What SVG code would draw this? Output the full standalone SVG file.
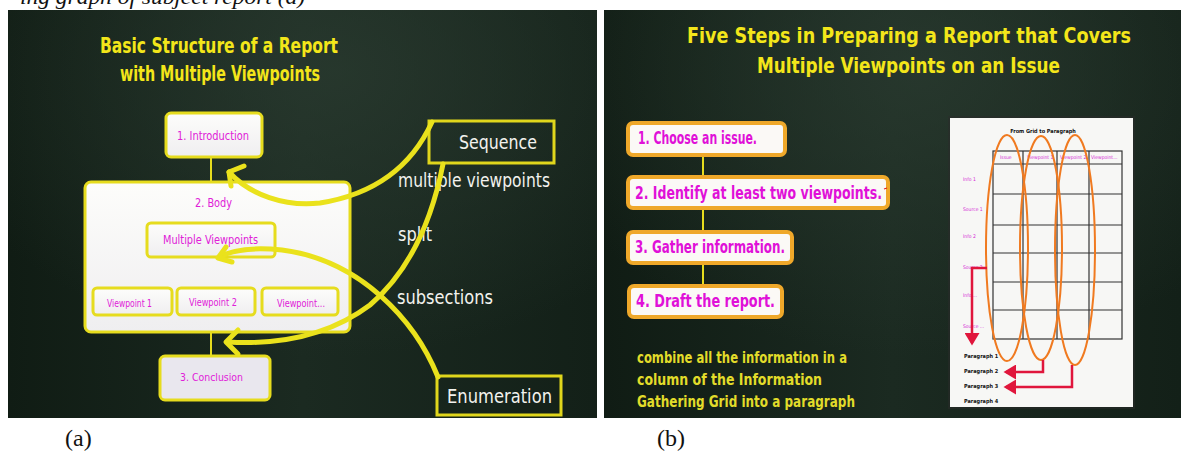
<svg xmlns="http://www.w3.org/2000/svg" width="1181" height="453" viewBox="0 0 1181 453">
  <defs>
    <linearGradient id="board" x1="0" y1="0" x2="1" y2="0">
      <stop offset="0" stop-color="#101c14"/>
      <stop offset="0.5" stop-color="#1b2a21"/>
      <stop offset="1" stop-color="#132018"/>
    </linearGradient>
    <radialGradient id="glow" cx="0.55" cy="0.15" r="0.7">
      <stop offset="0" stop-color="#2c3d32" stop-opacity="0.7"/>
      <stop offset="1" stop-color="#2c3d32" stop-opacity="0"/>
    </radialGradient>
    <linearGradient id="paper" x1="0" y1="0" x2="0" y2="1">
      <stop offset="0" stop-color="#fdfdfb"/>
      <stop offset="1" stop-color="#efeef0"/>
    </linearGradient>
    <marker id="redhead" markerWidth="6" markerHeight="6" refX="4" refY="3" orient="auto" markerUnits="strokeWidth">
      <path d="M0,0 L5,3 L0,6 z" fill="#e0163c"/>
    </marker>
  </defs>
  <style>
    .chalk { font-family: "Liberation Sans Narrow", "DejaVu Sans Condensed", sans-serif; font-weight: bold; }
    .title { fill: #f3e61a; font-size: 21px; }
    .white { fill: #f2f2ee; font-size: 19px; font-weight: normal; }
    .mag { fill: #e020d8; font-weight: normal; }
    .box { fill: url(#paper); stroke: #e6dc1e; stroke-width: 3; }
    .frame { fill: none; stroke: #e0d61c; stroke-width: 3; }
    .thin { stroke: #e6dc1e; stroke-width: 2; fill: none; }
    .curve { stroke: #eae21c; stroke-width: 5; fill: none; stroke-linecap: round; stroke-linejoin: round; }
    .step { fill: #fbf9f6; stroke: #efa82a; stroke-width: 4; }
    .steptext { fill: #e010d8; font-size: 17px; }
    .note { fill: #e2dc2a; font-size: 15px; }
    .tiny { font-family: "Liberation Sans Narrow", "DejaVu Sans Condensed", sans-serif; font-size: 5px; fill: #d62ad6; }
    .tinyb { font-family: "Liberation Sans Narrow", "DejaVu Sans Condensed", sans-serif; font-size: 5.5px; fill: #111; font-weight: bold; }
    .grid { stroke: #333; stroke-width: 1.2; fill: none; }
    .loop { stroke: #f07a20; stroke-width: 2; fill: none; }
    .red { stroke: #e0163c; stroke-width: 2.5; fill: none; }
    .cap { font-family: "Liberation Serif", serif; font-size: 24px; fill: #111; }
  </style>

  <rect width="1181" height="453" fill="#ffffff"/>

  <!-- caption line running above the panels, trimmed by the top edge -->
  <text x="20" y="4" font-family="Liberation Serif, serif" font-style="italic" font-size="20" fill="#111" textLength="285" lengthAdjust="spacingAndGlyphs">ing graph of subject report (a)</text>

  <!-- left board -->
  <g id="panel-a">
    <rect x="8" y="10" width="589" height="408" fill="url(#board)"/>
    <rect x="8" y="10" width="589" height="408" fill="url(#glow)"/>
    <text class="chalk title" x="100" y="53" textLength="238" lengthAdjust="spacingAndGlyphs">Basic Structure of a Report</text>
    <text class="chalk title" x="120" y="81" textLength="200" lengthAdjust="spacingAndGlyphs">with Multiple Viewpoints</text>
  </g>

  <!-- right board -->
  <g id="panel-b">
    <rect x="604" y="10" width="577" height="408" fill="url(#board)"/>
    <rect x="604" y="10" width="577" height="408" fill="url(#glow)"/>
    <text class="chalk title" x="687" y="43" font-size="24" textLength="444" lengthAdjust="spacingAndGlyphs">Five Steps in Preparing a Report that Covers</text>
    <text class="chalk title" x="757" y="73" font-size="24" textLength="303" lengthAdjust="spacingAndGlyphs">Multiple Viewpoints on an Issue</text>
  </g>

  <!-- tree connectors inside the structure -->
  <g id="connectors">
    <line class="thin" x1="211" y1="157" x2="211" y2="183"/>
    <line class="thin" x1="211" y1="332" x2="211" y2="357"/>
    <line class="thin" x1="211" y1="257" x2="134" y2="289"/>
    <line class="thin" x1="211" y1="257" x2="211" y2="289"/>
    <line class="thin" x1="211" y1="257" x2="300" y2="289"/>
    <line class="thin" x1="703" y1="155" x2="703" y2="177"/>
    <line class="thin" x1="703" y1="208" x2="703" y2="232"/>
    <line class="thin" x1="703" y1="263" x2="703" y2="286"/>
  </g>

  <g id="intro">
    <rect class="box" x="166" y="113" width="96" height="44" rx="5"/>
    <text class="chalk mag" x="177" y="140" font-size="13" textLength="72" lengthAdjust="spacingAndGlyphs">1. Introduction</text>
  </g>

  <g id="body">
    <rect class="box" x="85" y="182" width="265" height="150" rx="6" stroke-width="4"/>
    <text class="chalk mag" x="195" y="207" font-size="13" textLength="37" lengthAdjust="spacingAndGlyphs">2. Body</text>
  </g>

  <g id="multiple-viewpoints">
    <rect class="box" x="147" y="223" width="128" height="34" rx="4" stroke-width="2.5"/>
    <text class="chalk mag" x="163" y="244" font-size="12" textLength="95" lengthAdjust="spacingAndGlyphs">Multiple Viewpoints</text>
  </g>

  <g id="viewpoint-1">
    <rect class="box" x="93" y="288" width="79" height="27" rx="4" stroke-width="2.5"/>
    <text class="chalk mag" x="107" y="307" font-size="10" textLength="45" lengthAdjust="spacingAndGlyphs">Viewpoint 1</text>
  </g>
  <g id="viewpoint-2">
    <rect class="box" x="177" y="288" width="78" height="27" rx="4" stroke-width="2.5"/>
    <text class="chalk mag" x="189" y="306" font-size="10" textLength="48" lengthAdjust="spacingAndGlyphs">Viewpoint 2</text>
  </g>
  <g id="viewpoint-n">
    <rect class="box" x="262" y="288" width="76" height="27" rx="4" stroke-width="2.5"/>
    <text class="chalk mag" x="277" y="307" font-size="10" textLength="48" lengthAdjust="spacingAndGlyphs">Viewpoint...</text>
  </g>

  <g id="conclusion">
    <rect x="160" y="356" width="110" height="44" rx="5" fill="#e9e7ee" stroke="#e6dc1e" stroke-width="3"/>
    <text class="chalk mag" x="180" y="381" font-size="11" textLength="63" lengthAdjust="spacingAndGlyphs">3. Conclusion</text>
  </g>

  <g id="sequence">
    <rect class="frame" x="429" y="121" width="125" height="42"/>
    <text class="chalk white" x="459" y="149" font-size="20" textLength="78" lengthAdjust="spacingAndGlyphs">Sequence</text>
  </g>

  <g id="enumeration">
    <rect class="frame" x="437" y="376" width="124" height="39"/>
    <text class="chalk white" x="447" y="403" font-size="19" textLength="105" lengthAdjust="spacingAndGlyphs">Enumeration</text>
  </g>

  <g id="chalk-notes">
    <text class="chalk white" x="398" y="187" textLength="152" lengthAdjust="spacingAndGlyphs">multiple viewpoints</text>
    <text class="chalk white" x="398" y="241" textLength="34" lengthAdjust="spacingAndGlyphs">split</text>
    <text class="chalk white" x="397" y="304" textLength="96" lengthAdjust="spacingAndGlyphs">subsections</text>
  </g>

  <!-- sweeping chalk arrows -->
  <g id="chalk-arrows">
    <path class="curve" d="M432 122 C410 170 370 195 320 203 C285 207 250 195 229 172"/>
    <polyline class="curve" points="244,166 229,172 231,186"/>
    <path class="curve" d="M443 164 C430 230 405 275 370 305 C330 335 280 345 228 342"/>
    <polyline class="curve" points="238,330 226,342 238,354"/>
    <path class="curve" d="M438 377 C415 320 360 260 282 250 C252 247 232 250 219 257"/>
    <polyline class="curve" points="226,247 218,258 232,262"/>
  </g>

  <g id="step-1">
    <rect class="step" x="628" y="123" width="157" height="32" rx="5"/>
    <text class="chalk steptext" x="638" y="144" textLength="119" lengthAdjust="spacingAndGlyphs">1. Choose an issue.</text>
  </g>
  <g id="step-2">
    <rect class="step" x="628" y="177" width="260" height="31" rx="5"/>
    <text class="chalk steptext" x="635" y="199" textLength="247" lengthAdjust="spacingAndGlyphs">2. Identify at least two viewpoints.</text>
    <line x1="884" y1="189" x2="887" y2="188" stroke="#e02020" stroke-width="1.2"/>
  </g>
  <g id="step-3">
    <rect class="step" x="628" y="232" width="164" height="31" rx="5"/>
    <text class="chalk steptext" x="635" y="253" textLength="150" lengthAdjust="spacingAndGlyphs">3. Gather information.</text>
  </g>
  <g id="step-4">
    <rect class="step" x="629" y="286" width="153" height="31" rx="5"/>
    <text class="chalk steptext" x="636" y="307" textLength="139" lengthAdjust="spacingAndGlyphs">4. Draft the report.</text>
  </g>

  <g id="combine-note">
    <text class="chalk note" x="637" y="363" textLength="210" lengthAdjust="spacingAndGlyphs">combine all the information in a</text>
    <text class="chalk note" x="637" y="385" textLength="185" lengthAdjust="spacingAndGlyphs">column of the Information</text>
    <text class="chalk note" x="637" y="407" textLength="218" lengthAdjust="spacingAndGlyphs">Gathering Grid into a paragraph</text>
  </g>

  <!-- grid-to-paragraph sheet -->
  <g id="grid-sheet">
    <rect x="948" y="116" width="187" height="293" fill="#2a2a2a" opacity="0.5"/>
    <rect x="950" y="118" width="183" height="289" fill="#f7f7f5"/>
    <text class="tinyb" x="1043" y="133" text-anchor="middle" font-size="8">From Grid to Paragraph</text>
    <rect class="grid" x="993" y="151" width="129" height="188"/>
    <g class="grid">
      <line x1="1023" y1="151" x2="1023" y2="339"/>
      <line x1="1057" y1="151" x2="1057" y2="339"/>
      <line x1="1089" y1="151" x2="1089" y2="339"/>
      <line x1="993" y1="164" x2="1122" y2="164"/>
      <line x1="993" y1="194" x2="1122" y2="194"/>
      <line x1="993" y1="225" x2="1122" y2="225"/>
      <line x1="993" y1="253" x2="1122" y2="253"/>
      <line x1="993" y1="282" x2="1122" y2="282"/>
      <line x1="993" y1="310" x2="1122" y2="310"/>
    </g>
    <text class="tiny" x="1000" y="159">Issue</text>
    <text class="tiny" x="1027" y="159">Viewpoint 1</text>
    <text class="tiny" x="1060" y="159">Viewpoint 2</text>
    <text class="tiny" x="1091" y="159">Viewpoint...</text>
    <text class="tiny" x="963" y="181">Info 1</text>
    <text class="tiny" x="963" y="211">Source 1</text>
    <text class="tiny" x="963" y="238">Info 2</text>
    <text class="tiny" x="963" y="269">Source 2</text>
    <text class="tiny" x="963" y="297">Info ...</text>
    <text class="tiny" x="963" y="328">Source ...</text>
    <text class="tinyb" x="964" y="358">Paragraph 1</text>
    <text class="tinyb" x="964" y="373">Paragraph 2</text>
    <text class="tinyb" x="964" y="388">Paragraph 3</text>
    <text class="tinyb" x="964" y="403">Paragraph 4</text>
    <ellipse class="loop" cx="1007" cy="248" rx="21" ry="113"/>
    <ellipse class="loop" cx="1041" cy="248" rx="21" ry="112"/>
    <ellipse class="loop" cx="1075" cy="250" rx="20" ry="115"/>
    <polyline class="red" points="987,268 972,268 972,343" marker-end="url(#redhead)"/>
    <polyline class="red" points="1043,360 1043,372 1006,372" marker-end="url(#redhead)"/>
    <polyline class="red" points="1072,365 1072,387 1006,387" marker-end="url(#redhead)"/>
  </g>

  <text class="cap" x="65" y="446">(a)</text>
  <text class="cap" x="657" y="446">(b)</text>
</svg>
